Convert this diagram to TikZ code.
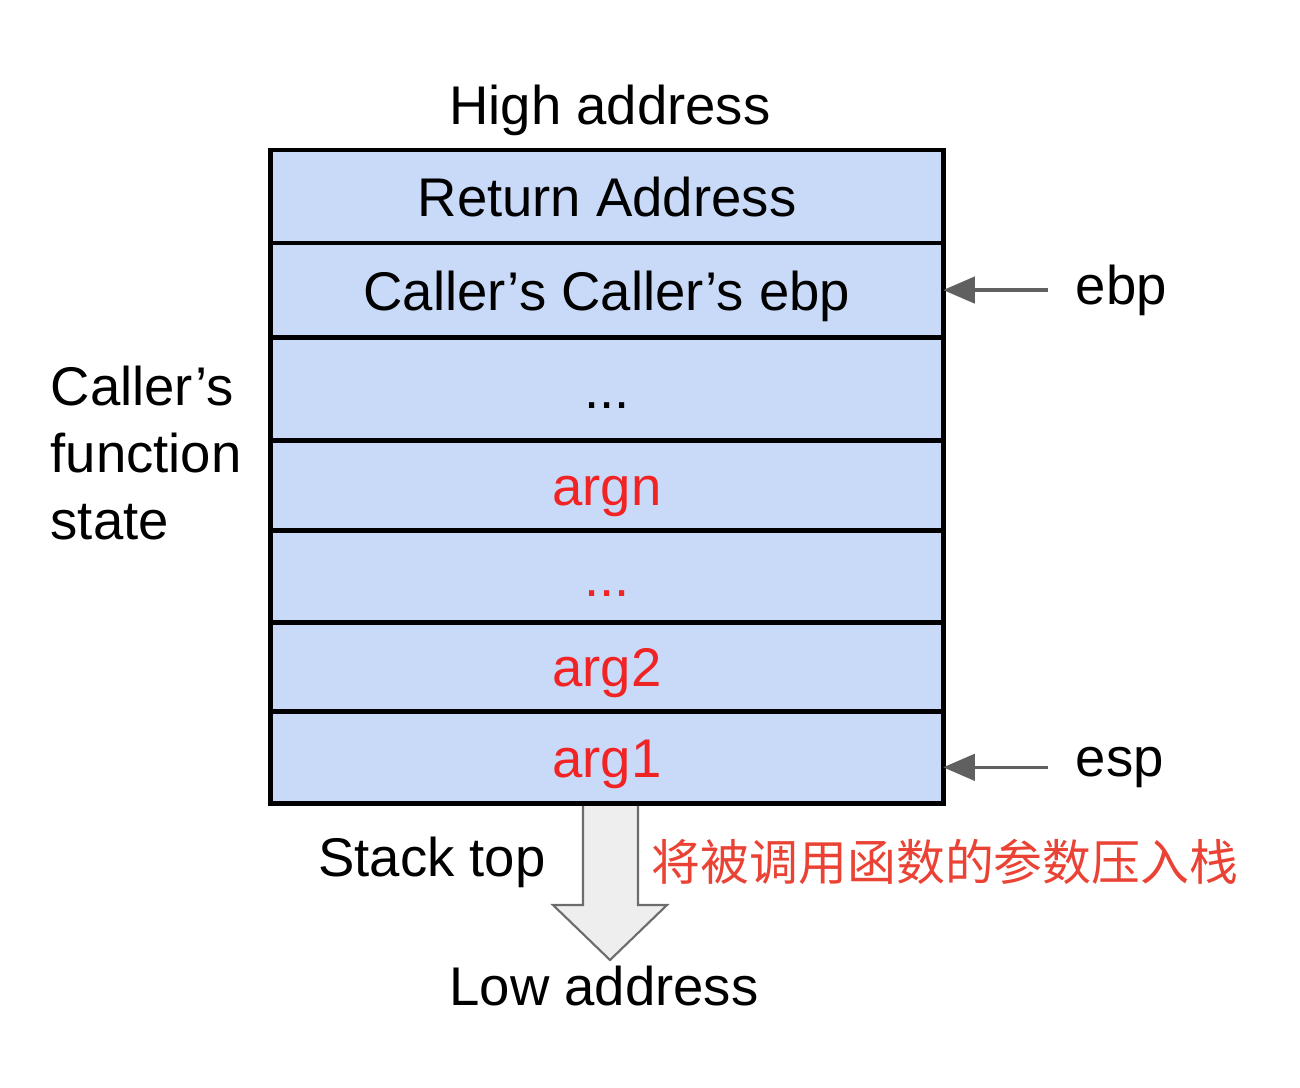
\documentclass[tikz,border=0pt]{standalone}
\usepackage{fontspec}
\setmainfont{Liberation Sans}
\newfontfamily\cjk{Noto Sans CJK SC}
\usetikzlibrary{positioning}
\usetikzlibrary{arrows.meta}
\definecolor{cellblue}{RGB}{201,218,248}
\definecolor{argred}{RGB}{240,36,36}
\definecolor{notered}{RGB}{234,67,53}
\definecolor{ptrgray}{RGB}{96,96,96}
\definecolor{pushgray}{RGB}{238,238,238}
\tikzset{every picture/.style={font=\fontsize{15.5}{19}\selectfont},
  cell/.style={ % one slot of the stack
    draw, line width=1.4pt, fill=cellblue,
    minimum width=6.72cm, inner sep=0pt, outer sep=0pt,
    text height=1.2em, text depth=0.05em},
  argcell/.style={cell, text=argred},
  ptrlabel/.style={inner ysep=0pt, inner xsep=0.27cm},
  ptr/.style={draw=ptrgray, line width=1pt,
    -{Triangle[length=9pt,width=7.5pt]}}}

\begin{document}
\begin{tikzpicture}[x=0.01cm, y=-0.01cm]
  \useasboundingbox (0,0) rectangle (1300,1088);

  % push direction
  \filldraw[fill=pushgray, draw=gray!85!black, line width=0.6pt]
    (583,803) -- (583,905) -- (553,905) -- (610,960)
    -- (667,905) -- (638,905) -- (638,803);

  % the stack, top to bottom
  \node [cell, minimum height=0.93cm] (ret) at (607,196.5) {Return Address};
  \node [cell, minimum height=0.94cm, below=0pt of ret] (oldebp) {Caller's Caller's ebp};
  \node [cell, minimum height=1.03cm, below=0pt of oldebp] (dotsa) {...};
  \node [argcell, minimum height=0.90cm, below=0pt of dotsa] (argn) {argn};
  \node [argcell, minimum height=0.92cm, below=0pt of argn] (dotsb) {...};
  \node [argcell, minimum height=0.89cm, below=0pt of dotsb] (argtwo) {arg2};
  \node [argcell, minimum height=0.92cm, below=0pt of argtwo] (argone) {arg1};

  \node (high) at (610,110) {High address};
  \node (low) at (604,986) {Low address};
  \node [anchor=west, align=left, inner sep=0pt] (state) at (50,453)
    {Caller's\\ function\\ state};

  % registers
  \node [ptrlabel, right=1.05cm of oldebp] (ebp) {ebp};
  \node [ptrlabel, right=1.05cm of argone, yshift=-0.1cm] (esp) {esp};
  \draw [ptr] (ebp.west) -- (oldebp.east);
  \draw [ptr] (esp.west) -- (esp.west -| argone.east);

  \node (stacktop) at (432,862) {Stack top};
  \node [text=notered, font=\cjk\fontsize{13.9}{17}\selectfont] (pushnote) at (945,862)
    {将被调用函数的参数压入栈};
\end{tikzpicture}
\end{document}
